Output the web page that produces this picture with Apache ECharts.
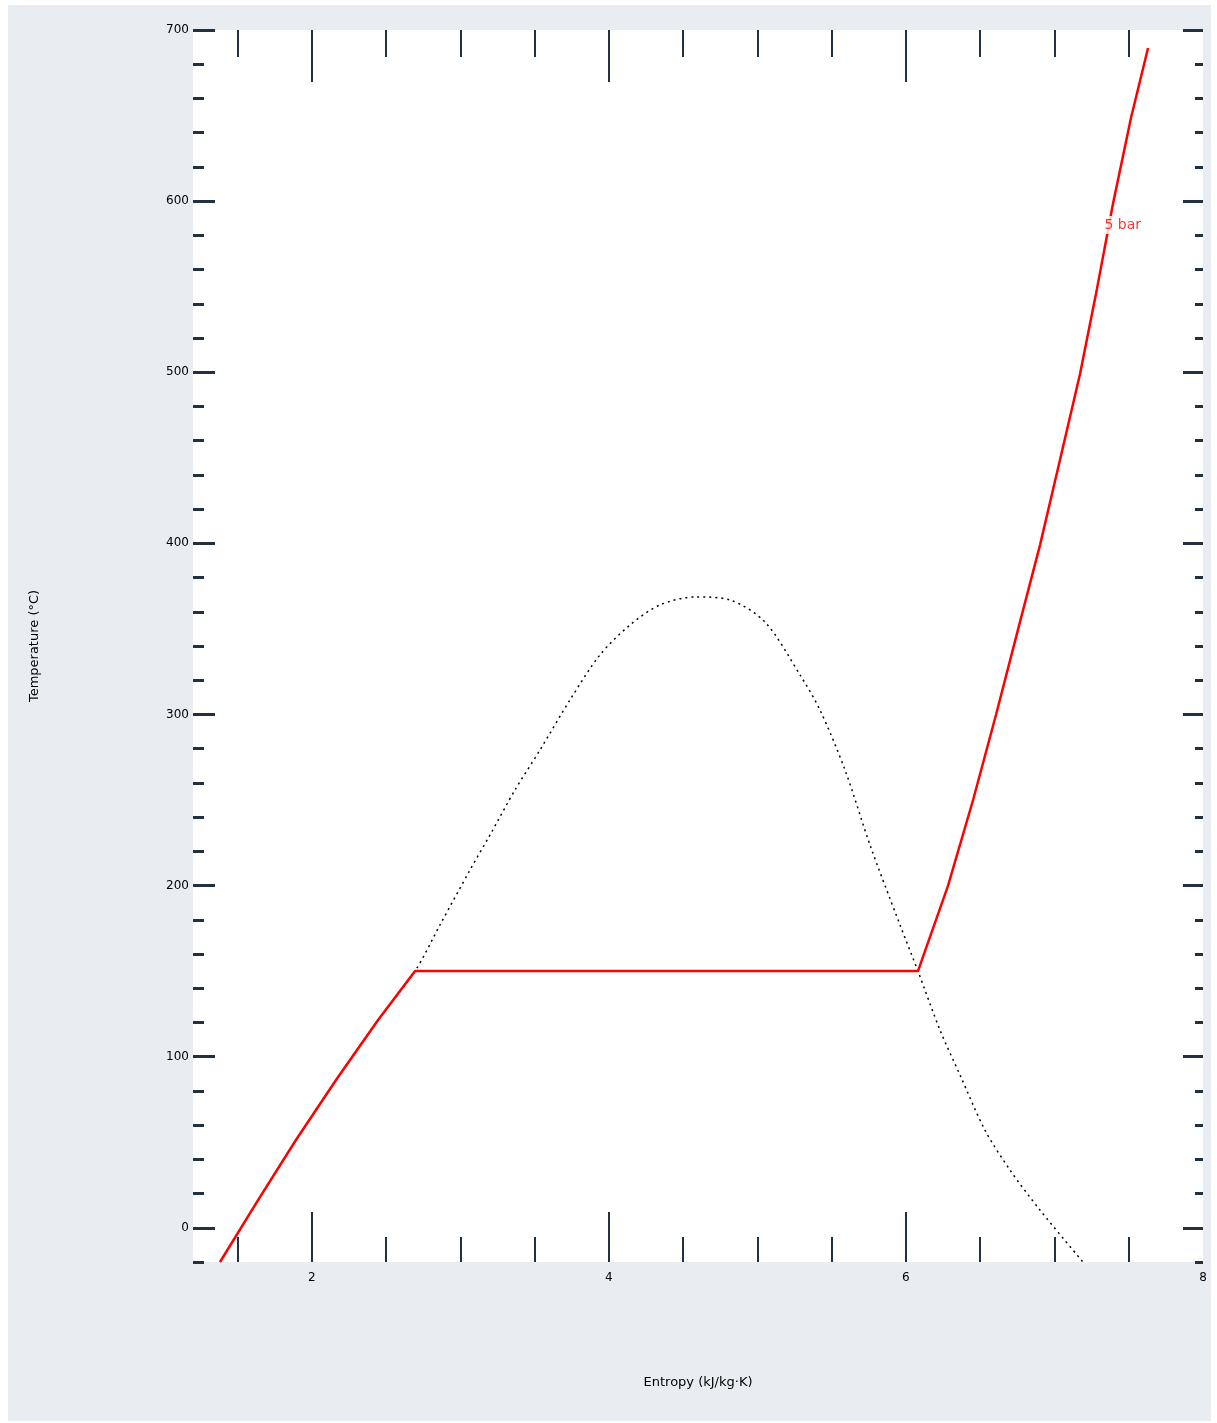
<!DOCTYPE html>
<html>
<head>
<meta charset="utf-8">
<title>T-s diagram</title>
<script src="https://cdn.jsdelivr.net/npm/echarts@6/dist/echarts.min.js"></script>
<style>
  html, body { margin: 0; padding: 0; background: #ffffff; }
  #chart { position: absolute; left: 8px; top: 5px; width: 1203px; height: 1416px; }
</style>
</head>
<body>
<div id="chart"></div>
<script>
// Saturation dome (liquid branch, critical region, vapour branch)
const domeEntropy = [1.382, 1.638, 1.893, 2.163, 2.446, 2.695, 2.863, 3.065, 3.200, 3.368, 3.536,
  3.738, 3.940, 4.142, 4.344, 4.580, 4.815, 5.051, 5.287, 5.421, 5.590, 5.758, 5.960, 6.081,
  6.229, 6.364, 6.532, 6.700, 6.902, 7.192];
const domeTemp = [-20, 16.2, 51.3, 86.4, 121.4, 150.0, 177.0, 209.1, 229.6, 255.9, 279.2,
  308.5, 334.8, 352.3, 364.0, 368.7, 366.9, 354.0, 323.1, 302.6, 267.5, 223.7, 177.0, 150.0,
  115.6, 89.3, 57.1, 33.8, 10.4, -20];

// 5 bar isobar: compressed liquid, two-phase plateau, superheated vapour
const liquidEntropy = [1.382, 1.638, 1.893, 2.163, 2.446, 2.695];
const liquidTemp = [-20, 16.2, 51.3, 86.4, 121.4, 150.0];
const vapourEntropy = [6.081, 6.283, 6.452, 6.606, 6.754, 6.903, 7.037, 7.172, 7.286, 7.394, 7.515, 7.630];
const vapourTemp = [150.0, 199.8, 250.0, 299.7, 349.4, 399.1, 448.7, 499.0, 548.7, 598.4, 648.6, 689.5];

// Curve annotation
const isobarName = '5 bar';
const isobarNameAt = [7.46, 586];

// Axis ticks
const entropyLabels = [2, 4, 6, 8];
const entropyTicks = [2, 4, 6];
const entropyMinorTicks = [1.5, 2.5, 3, 3.5, 4.5, 5, 5.5, 6.5, 7, 7.5];
const tempTicks = [0, 100, 200, 300, 400, 500, 600, 700];
const tempMinorTicks = [-20, 20, 40, 60, 80, 120, 140, 160, 180, 220, 240, 260, 280, 320, 340, 360, 380,
  420, 440, 460, 480, 520, 540, 560, 580, 620, 640, 660, 680];

const xRange = { min: 1.2, max: 8 };
const yRange = { min: -20, max: 700 };

const tickColor = '#22313f';
const labelFont = { color: '#000', fontSize: 12, fontFamily: 'DejaVu Sans' };

function zipPairs(a, b) { return a.map((v, i) => [v, b[i]]); }

// liquid branch, then the flat two-phase segment, then the superheated branch
const isobarPoints = zipPairs(liquidEntropy, liquidTemp).concat(zipPairs(vapourEntropy, vapourTemp));

function xAxisDef(position, ticks, len, labels, extra) {
  return Object.assign({
    type: 'value', position: position, min: xRange.min, max: xRange.max,
    axisLine: { show: false, onZero: false },
    splitLine: { show: false },
    axisTick: { show: true, inside: true, length: len, customValues: ticks,
      lineStyle: { color: tickColor, width: 2 } },
    axisLabel: labels
      ? Object.assign({ show: true, customValues: labels, margin: 10 }, labelFont)
      : { show: false }
  }, extra || {});
}

function yAxisDef(position, ticks, len, withLabels, extra) {
  return Object.assign({
    type: 'value', position: position, min: yRange.min, max: yRange.max,
    axisLine: { show: false, onZero: false },
    splitLine: { show: false },
    axisTick: { show: true, inside: true, length: len, customValues: ticks,
      lineStyle: { color: tickColor, width: 3 } },
    axisLabel: withLabels
      ? Object.assign({ show: true, customValues: ticks, margin: 4 }, labelFont)
      : { show: false }
  }, extra || {});
}

const chart = echarts.init(document.getElementById('chart'), null, { renderer: 'canvas' });

chart.setOption({
  backgroundColor: '#e9edf2',
  animation: false,
  grid: {
    left: 185, right: 8, top: 25, bottom: 159,
    show: true, backgroundColor: '#ffffff', borderWidth: 0
  },
  xAxis: [
    xAxisDef('bottom', entropyTicks, 50, entropyLabels, {
      name: 'Entropy (kJ/kg·K)', nameLocation: 'middle', nameGap: 114,
      nameTextStyle: { color: '#000', fontSize: 13, fontFamily: 'DejaVu Sans' }
    }),
    xAxisDef('bottom', entropyMinorTicks, 25, null),
    xAxisDef('top', entropyTicks, 52, null),
    xAxisDef('top', entropyMinorTicks, 27, null)
  ],
  yAxis: [
    yAxisDef('left', tempTicks, 22, true, {
      name: 'Temperature (°C)', nameLocation: 'middle', nameGap: 152,
      nameTextStyle: { color: '#000', fontSize: 13, fontFamily: 'DejaVu Sans' }
    }),
    yAxisDef('left', tempMinorTicks, 11, false),
    yAxisDef('right', tempTicks, 20, false),
    yAxisDef('right', tempMinorTicks, 8, false)
  ],
  series: [
    {
      name: 'Saturation dome',
      type: 'line',
      xAxisIndex: 0, yAxisIndex: 0,
      data: zipPairs(domeEntropy, domeTemp),
      showSymbol: false,
      smooth: 0.3,
      lineStyle: { color: '#000000', width: 1.5, type: [2, 4] },
      z: 2
    },
    {
      name: isobarName,
      type: 'line',
      xAxisIndex: 0, yAxisIndex: 0,
      data: isobarPoints,
      showSymbol: false,
      smooth: false,
      lineStyle: { color: '#ff0000', width: 2.5 },
      z: 3
    },
    {
      name: 'label',
      type: 'scatter',
      xAxisIndex: 0, yAxisIndex: 0,
      data: [isobarNameAt],
      symbol: 'circle',
      symbolSize: 1,
      itemStyle: { color: 'rgba(0,0,0,0)' },
      label: {
        show: true, position: 'inside', formatter: isobarName,
        color: '#ff0000', fontSize: 14, fontFamily: 'DejaVu Sans',
        backgroundColor: '#ffffff', padding: [2, 1]
      },
      z: 4
    }
  ]
});
</script>
</body>
</html>
